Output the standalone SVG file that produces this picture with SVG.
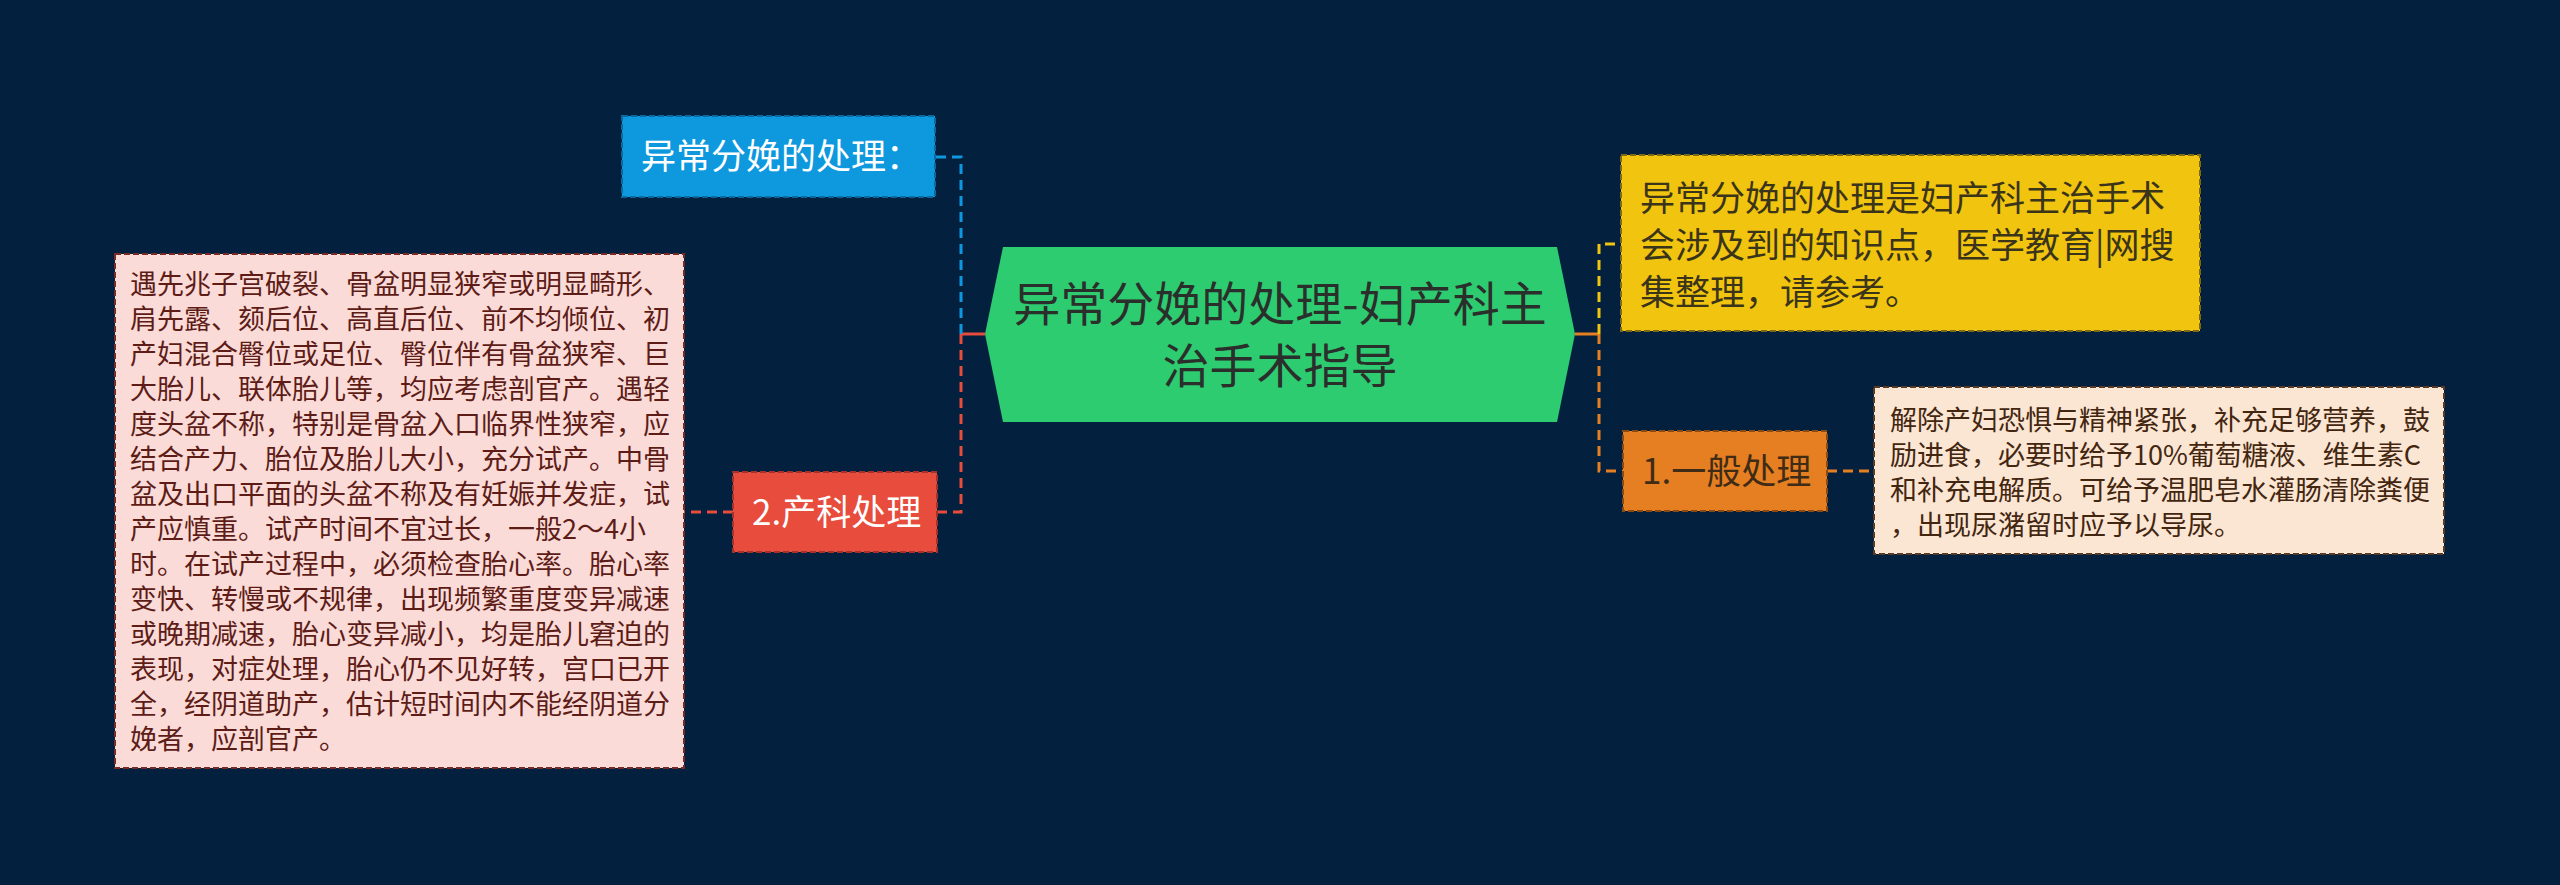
<svg xmlns="http://www.w3.org/2000/svg" width="2560" height="885" viewBox="0 0 2560 885">
<style>
text{font-family:"Noto Sans CJK SC","Noto Sans",sans-serif;}
.conn{fill:none;stroke-width:3;stroke-dasharray:10 6;}
.solid{fill:none;stroke-width:3;}
.box{stroke-width:2;stroke-dasharray:6 3;}
.t35{font-size:35px;}
.t27{font-size:27px;}
</style>
<rect x="0" y="0" width="2560" height="885" fill="#03203f"/>
<g id="connectors">
  <path class="solid" stroke="#e74c3c" d="M985 334 H961"/>
  <path class="conn" stroke="#0e98dd" d="M961 334 V157 H935"/>
  <path class="conn" stroke="#e74c3c" d="M961 334 V512 H937"/>
  <path class="conn" stroke="#e74c3c" d="M733 512 H684"/>
  <path class="solid" stroke="#e67e22" d="M1575 334 H1599"/>
  <path class="conn" stroke="#f1c40f" d="M1599 334 V244 H1621"/>
  <path class="conn" stroke="#e67e22" d="M1599 334 V471 H1623"/>
  <path class="conn" stroke="#e67e22" d="M1827 471 H1874"/>
</g>
<g id="center">
  <polygon points="985,334 1003,247 1557,247 1575,334 1557,422 1003,422" fill="#2ecc71"/>
  <text x="1280" y="321" font-size="47" fill="#2b2f2c" text-anchor="middle">异常分娩的处理-妇产科主</text>
  <text x="1280" y="383" font-size="47" fill="#2b2f2c" text-anchor="middle">治手术指导</text>
</g>
<g id="node-blue">
  <rect class="box" x="622" y="116" width="313" height="81" fill="#0e98dd" stroke="#0a6aa0"/>
  <text class="t35" x="641" y="169" fill="#ffffff">异常分娩的处理：</text>
</g>
<g id="node-red">
  <rect class="box" x="733" y="472" width="204" height="80" fill="#e74c3c" stroke="#a3322a"/>
  <text class="t35" x="752" y="525" fill="#ffffff">2.产科处理</text>
</g>
<g id="node-pink">
  <rect class="box" x="115" y="254" width="569" height="514" fill="#fadbd8" stroke="#7a2a24"/>
  <g class="t27" fill="#5e1c17">
    <text x="130" y="294">遇先兆子宫破裂、骨盆明显狭窄或明显畸形、</text>
    <text x="130" y="329">肩先露、颏后位、高直后位、前不均倾位、初</text>
    <text x="130" y="364">产妇混合臀位或足位、臀位伴有骨盆狭窄、巨</text>
    <text x="130" y="399">大胎儿、联体胎儿等，均应考虑剖官产。遇轻</text>
    <text x="130" y="434">度头盆不称，特别是骨盆入口临界性狭窄，应</text>
    <text x="130" y="469">结合产力、胎位及胎儿大小，充分试产。中骨</text>
    <text x="130" y="504">盆及出口平面的头盆不称及有妊娠并发症，试</text>
    <text x="130" y="539">产应慎重。试产时间不宜过长，一般2～4小</text>
    <text x="130" y="574">时。在试产过程中，必须检查胎心率。胎心率</text>
    <text x="130" y="609">变快、转慢或不规律，出现频繁重度变异减速</text>
    <text x="130" y="644">或晚期减速，胎心变异减小，均是胎儿窘迫的</text>
    <text x="130" y="679">表现，对症处理，胎心仍不见好转，宫口已开</text>
    <text x="130" y="714">全，经阴道助产，估计短时间内不能经阴道分</text>
    <text x="130" y="749">娩者，应剖官产。</text>
  </g>
</g>
<g id="node-yellow">
  <rect class="box" x="1621" y="155" width="579" height="176" fill="#f1c40f" stroke="#7d6a12"/>
  <g class="t35" fill="#3a341a">
    <text x="1640" y="211">异常分娩的处理是妇产科主治手术</text>
    <text x="1640" y="258">会涉及到的知识点，医学教育|网搜</text>
    <text x="1640" y="305">集整理，请参考。</text>
  </g>
</g>
<g id="node-orange">
  <rect class="box" x="1623" y="431" width="204" height="80" fill="#e67e22" stroke="#8a4a12"/>
  <text class="t35" x="1642" y="484" fill="#3f2c16">1.一般处理</text>
</g>
<g id="node-beige">
  <rect class="box" x="1874" y="387" width="570" height="167" fill="#fbe5d3" stroke="#5a3a22"/>
  <g class="t27" fill="#43260f">
    <text x="1890" y="430">解除产妇恐惧与精神紧张，补充足够营养，鼓</text>
    <text x="1890" y="465">励进食，必要时给予10%葡萄糖液、维生素C</text>
    <text x="1890" y="500">和补充电解质。可给予温肥皂水灌肠清除粪便</text>
    <text x="1890" y="535">，出现尿潴留时应予以导尿。</text>
  </g>
</g>
</svg>
